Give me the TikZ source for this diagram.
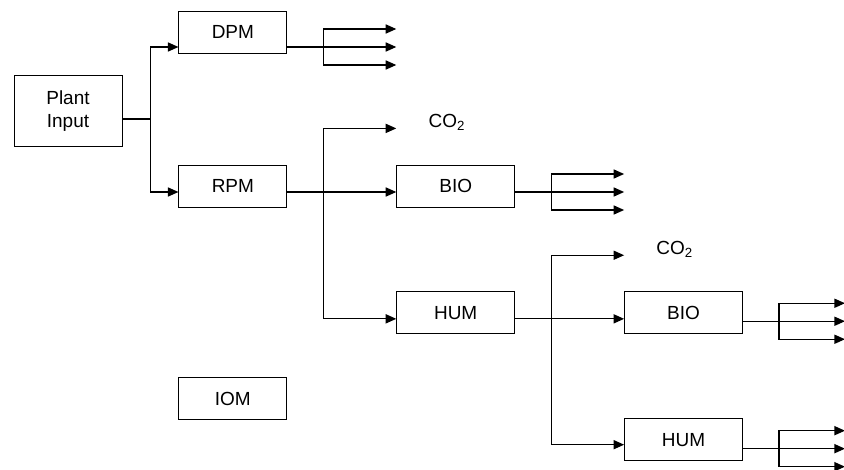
\documentclass[tikz,border=0pt]{standalone}
\usepackage{fontspec}
\setmainfont{Liberation Sans}
\usetikzlibrary{arrows.meta, positioning}

\begin{document}
\begin{tikzpicture}[
  node distance=2.1cm and 2.725cm,
  box/.style={rectangle, draw, line width=0.6pt, text centered, align=center, inner sep=0pt, minimum height=1.05cm, minimum width=2.7cm, font=\fontsize{13.5}{16.5}\selectfont},
  wbox/.style={box, minimum width=2.95cm},
  gas/.style={inner sep=0pt, font=\fontsize{13.5}{16}\selectfont},
  arrow/.style={-{Triangle[length=7.5pt, width=6.5pt]}, line width=0.85pt}
]
\useasboundingbox (0,0) rectangle (21.1,-11.75);

% Input and first pools
\node[box, minimum height=1.775cm] (plant) at (1.7,-2.775) {Plant\\Input};
\node[box, right=1.4cm of plant, yshift=1.975cm] (dpm) {DPM};
\node[box, right=1.4cm of plant, yshift=-1.875cm] (rpm) {RPM};
\node[box, below=4.25cm of rpm] (iom) {IOM};

% Second and third level pools
\node[wbox, right=2.725cm of rpm] (bio) {BIO};
\node[wbox, below=of bio] (hum) {HUM};
\node[wbox, right=of hum] (bio2) {BIO};
\node[wbox, below=of bio2] (hum2) {HUM};

% CO2 ends and labels
\coordinate (co2 end) at ([yshift=1.44cm]bio.west);
\coordinate (co2 end2) at ([yshift=1.44cm]bio2.west);
\node[gas, anchor=base west] (co2) at ([xshift=0.8cm, yshift=0.03cm]co2 end) {CO\textsubscript{2}};
\node[gas, anchor=base west] (co2b) at ([xshift=0.8cm, yshift=0.03cm]co2 end2) {CO\textsubscript{2}};

% Plant input -> DPM, RPM
\draw[arrow] ([yshift=-0.2cm]plant.east) -- ++(0.7,0) |- ([yshift=-0.375cm]dpm.west);
\draw[arrow] ([yshift=-0.2cm]plant.east) -- ++(0.7,0) |- ([yshift=-0.15cm]rpm.west);

% RPM -> BIO, CO2, HUM
\draw[arrow] ([yshift=-0.15cm]rpm.east) -- ([yshift=-0.15cm]bio.west);
\draw[arrow] ([yshift=-0.15cm]rpm.east) -- ++(0.9,0) |- (co2 end);
\draw[arrow] ([yshift=-0.15cm]rpm.east) -- ++(0.9,0) |- ([yshift=-0.15cm]hum.west);

% HUM -> BIO, CO2, HUM
\draw[arrow] ([yshift=-0.15cm]hum.east) -- ([yshift=-0.15cm]bio2.west);
\draw[arrow] ([yshift=-0.15cm]hum.east) -- ++(0.9,0) |- (co2 end2);
\draw[arrow] ([yshift=-0.15cm]hum.east) -- ++(0.9,0) |- ([yshift=-0.125cm]hum2.west);

% Fan-outs
\foreach \dy in {0.45,0,-0.45}
  \draw[arrow] ([yshift=-0.375cm]dpm.east) -- ++(0.9,0) |- ++(1.825,\dy);
\foreach \dy in {0.45,0,-0.45}
  \draw[arrow] ([yshift=-0.15cm]bio.east) -- ++(0.9,0) |- ++(1.825,\dy);
\foreach \dy in {0.45,0,-0.45}
  \draw[arrow] ([yshift=-0.21cm]bio2.east) -- ++(0.9,0) |- ++(1.65,\dy);
\foreach \dy in {0.45,0,-0.45}
  \draw[arrow] ([yshift=-0.225cm]hum2.east) -- ++(0.9,0) |- ++(1.65,\dy);

\end{tikzpicture}
\end{document}
